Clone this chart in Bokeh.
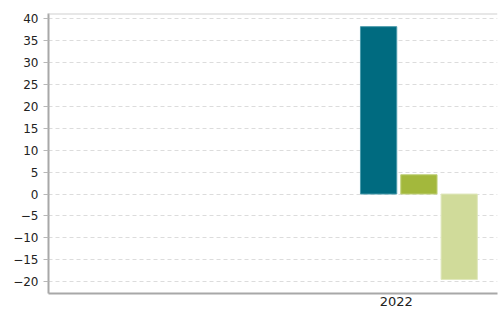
from bokeh.plotting import figure
from bokeh.models import Range1d, FixedTicker, Span, ColumnDataSource
from bokeh.embed import file_html
from bokeh.resources import INLINE

# Data
year_labels = ["2022"]
series_names = ["Series A", "Series B", "Series C"]
series_values = [38.2, 4.4, -19.5]
series_colors = ["#006b80", "#a3b83c", "#d0db9a"]
series_edges = ["#4a9aab", "#c0d07a", "#e0e8bd"]
y_ticks = [-20, -15, -10, -5, 0, 5, 10, 15, 20, 25, 30, 35, 40]

# layout positions (in bar-pitch units)
group_label_x = 8.63
bar_x = [8.19, 9.19, 10.19]
bar_width = 0.9

p = figure(width=499, height=308, output_backend="svg", toolbar_location=None,
           x_range=Range1d(0, 11.14), y_range=Range1d(-22.7, 41.2),
           min_border_left=48, min_border_top=13, min_border_right=2,
           min_border_bottom=10)

src = ColumnDataSource(dict(x=bar_x, top=series_values, fill=series_colors,
                            edge=series_edges, name=series_names))
p.vbar(x="x", top="top", bottom=0, width=bar_width, source=src,
       fill_color="fill", line_color="edge", line_width=1)

p.outline_line_color = None
p.background_fill_color = "white"
p.border_fill_color = "white"

# y axis
p.yaxis.ticker = FixedTicker(ticks=y_ticks)
p.yaxis.major_label_overrides = {t: (("\u2212" + str(-t)) if t < 0 else str(t)) for t in y_ticks}
p.yaxis.axis_line_color = "#a8a8a8"
p.yaxis.axis_line_width = 2
p.yaxis.major_tick_line_color = "#b8b8b8"
p.yaxis.major_tick_out = 5
p.yaxis.major_tick_in = 0
p.yaxis.minor_tick_line_color = None
p.yaxis.major_label_standoff = 5
p.yaxis.major_label_text_font = "DejaVu Sans"
p.yaxis.major_label_text_font_size = "12px"
p.yaxis.major_label_text_color = "#222222"

# x axis
p.xaxis.ticker = FixedTicker(ticks=[group_label_x])
p.xaxis.major_label_overrides = {group_label_x: year_labels[0]}
p.xaxis.axis_line_color = "#a8a8a8"
p.xaxis.axis_line_width = 2
p.xaxis.major_tick_line_color = None
p.xaxis.minor_tick_line_color = None
p.xaxis.major_tick_out = 0
p.xaxis.major_tick_in = 0
p.xaxis.major_label_standoff = 3
p.xaxis.major_label_text_font = "DejaVu Sans"
p.xaxis.major_label_text_font_size = "13px"
p.xaxis.major_label_text_color = "#222222"

# grid
p.xgrid.grid_line_color = None
p.ygrid.ticker = FixedTicker(ticks=y_ticks)
p.ygrid.grid_line_color = "#dcdcdc"
p.ygrid.grid_line_dash = "4 3"
p.ygrid.grid_line_width = 1

# top border line
p.add_layout(Span(location=41.2, dimension="width", line_color="#cfcfcf", line_width=2))

open("out.html", "w").write(file_html(p, INLINE))
